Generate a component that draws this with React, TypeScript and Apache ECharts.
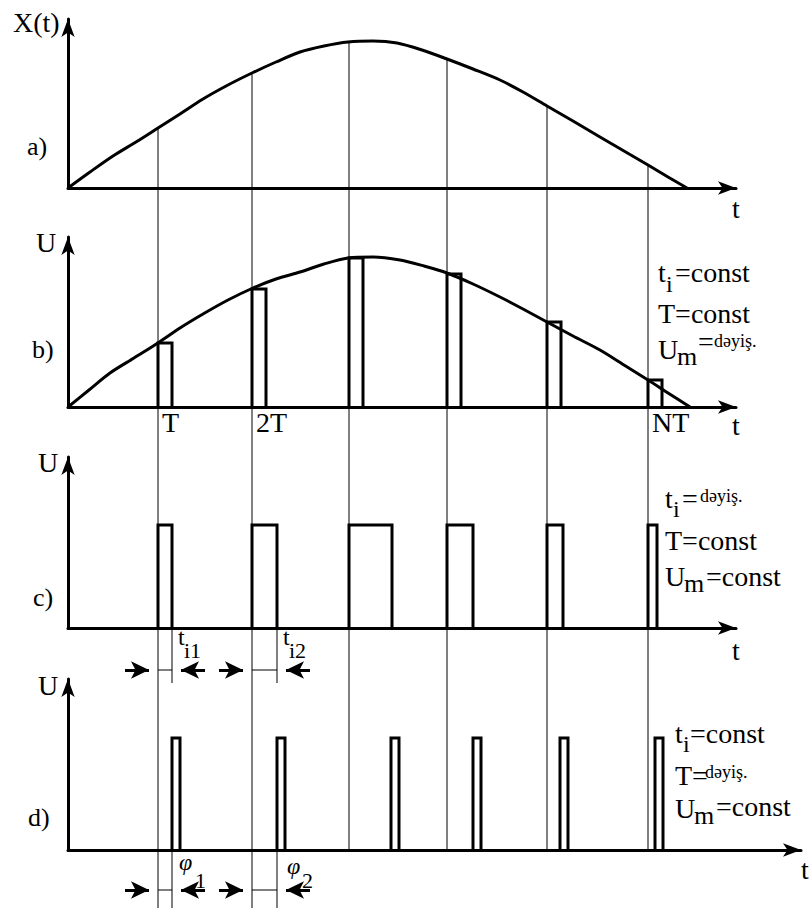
import { useEffect, useRef } from 'react';
import * as echarts from 'echarts';

// Sampling instants T, 2T, ..., NT (time units from each panel origin)
const sampleTimes = [90, 184, 281, 379, 479, 580];

// a) message signal X(t)
const signalT = [0, 22, 45, 68, 90, 112, 135, 160, 184, 208, 232, 256, 280, 305, 329, 354, 379, 405, 432, 455, 479, 505, 532, 556, 580, 600, 619];
const signalX = [0, 16, 32, 46, 60, 74, 89, 103, 115, 126, 136, 142, 146, 147, 145, 138, 129, 119, 108, 96, 82, 67, 51, 37, 23, 11, 0];
// X(t) at each sampling instant
const sampleX = [60, 115, 146, 129, 82, 23];

// b) envelope and amplitude-modulated pulses (t_i = const, T = const)
const envT = [0, 21, 42, 66, 90, 112, 135, 160, 185, 208, 232, 256, 280, 305, 332, 356, 379, 405, 432, 455, 479, 505, 532, 556, 580, 600, 622];
const envU = [0, 17, 34, 49, 64, 79, 93, 107, 119, 128, 135, 143, 149, 150, 147, 141, 134, 123, 110, 98, 85, 71, 57, 42, 27, 14, 0];
const pamU = [64, 118, 149, 133, 85, 27];
const pamWidth = 14;

// c) width-modulated pulses (U_m = const)
const pwmWidths = [14, 25, 43, 26, 16, 9];
const pwmU = 103;

// d) position-modulated pulses (t_i = const, U_m = const)
const ppmStarts = [104, 209, 323, 405, 492, 587];
const ppmWidth = 8;
const ppmU = 112;

// time-axis labels of panel b
const tickLabels = ['T', '2T', 'NT'];
const tickIndex = [0, 1, 5];

const FONT = "Liberation Serif";
const BLACK = '#000';

// panel layout (pixels)
const LEFT = 68;
const PANELS = [
  { top: 19, height: 169, width: 668 },
  { top: 237, height: 170, width: 668 },
  { top: 457, height: 171, width: 668 },
  { top: 679, height: 171, width: 733 },
];
const PAGE_H = 909;
const baseOf = (i: number) => PANELS[i].top + PANELS[i].height;
const GUIDE_LONG = 908;
const DIM_C_Y = 670;
const DIM_D_Y = 890;
const DIM_C_END = 683;
const ARROW_LEN = 18;
const ARROW_TAIL = 33;

function pulse(t0: number, w: number, h: number) {
  return [[t0, 0], [t0, h], [t0 + w, h], [t0 + w, 0]];
}

function lineSeries(gi: number, data: number[][], width = 3, smooth: number | boolean = false) {
  return {
    type: 'line',
    xAxisIndex: gi,
    yAxisIndex: gi,
    data,
    smooth,
    symbol: 'none',
    clip: false,
    silent: true,
    lineStyle: { color: BLACK, width, cap: 'butt', join: 'miter' },
  };
}

function txt(x: number, baseline: number, text: string, size: number, italic = false) {
  return {
    type: 'text',
    x,
    y: baseline - 0.34 * size,
    silent: true,
    style: {
      text,
      fill: BLACK,
      fontFamily: FONT,
      fontSize: size,
      fontStyle: italic ? 'italic' : 'normal',
      fontWeight: 'normal',
      align: 'left',
      verticalAlign: 'middle',
    },
  };
}

export default function App() {
  const ref = useRef<HTMLDivElement>(null);

  useEffect(() => {
    if (!ref.current) return;
    const chart = echarts.init(ref.current, undefined, { renderer: 'svg' });

    const grids = PANELS.map((p) => ({ left: LEFT, top: p.top, width: p.width, height: p.height }));
    grids.push({ left: LEFT, top: 0, width: PANELS[0].width, height: PAGE_H });

    const axisLine = {
      show: true,
      symbol: ['none', 'arrow'],
      symbolSize: [10, 18],
      lineStyle: { color: BLACK, width: 3 },
    };
    const xAxis: any[] = PANELS.map((p, i) => ({
      type: 'value', gridIndex: i, min: 0, max: p.width,
      axisLine, axisTick: { show: false }, axisLabel: { show: false }, splitLine: { show: false },
    }));
    const yAxis: any[] = PANELS.map((p, i) => ({
      type: 'value', gridIndex: i, min: 0, max: p.height,
      axisLine, axisTick: { show: false }, axisLabel: { show: false }, splitLine: { show: false },
    }));
    // overlay in page coordinates for lines crossing several panels
    xAxis.push({ type: 'value', gridIndex: 4, min: 0, max: PANELS[0].width, show: false });
    yAxis.push({ type: 'value', gridIndex: 4, min: 0, max: PAGE_H, inverse: true, show: false });

    const series: any[] = [];

    // a) X(t)
    series.push(lineSeries(0, signalT.map((t, i) => [t, signalX[i]]), 3, 0.3));

    // b) envelope + PAM pulses
    series.push(lineSeries(1, envT.map((t, i) => [t, envU[i]]), 3, 0.3));
    sampleTimes.forEach((t, i) => series.push(lineSeries(1, pulse(t, pamWidth, pamU[i]))));

    // c) PWM
    sampleTimes.forEach((t, i) => series.push(lineSeries(2, pulse(t, pwmWidths[i], pwmU))));

    // d) PPM
    ppmStarts.forEach((t) => series.push(lineSeries(3, pulse(t, ppmWidth, ppmU))));

    // vertical guides from X(t) down through all panels
    const baseA = baseOf(0);
    sampleTimes.forEach((t, i) => {
      const bottom = i < 2 ? GUIDE_LONG : baseOf(3);
      series.push(lineSeries(4, [[t, baseA - sampleX[i]], [t, bottom]], 1));
    });

    // dimension lines for t_i1, t_i2 and phi1, phi2
    const dims: { from: number; to: number; y: number }[] = [];
    [0, 1].forEach((i) => {
      const tEnd = sampleTimes[i] + pwmWidths[i];
      series.push(lineSeries(4, [[tEnd, baseOf(2)], [tEnd, DIM_C_END]], 1));
      series.push(lineSeries(4, [[ppmStarts[i], baseOf(3)], [ppmStarts[i], GUIDE_LONG]], 1));
      dims.push({ from: sampleTimes[i], to: tEnd, y: DIM_C_Y });
      dims.push({ from: sampleTimes[i], to: ppmStarts[i], y: DIM_D_Y });
    });
    dims.forEach((d) => series.push(lineSeries(4, [[d.from, d.y], [d.to, d.y]], 1)));
    const arrows: any[] = [];
    dims.forEach((d) => {
      arrows.push([{ coord: [d.from - ARROW_TAIL, d.y] }, { coord: [d.from - ARROW_LEN / 2, d.y] }]);
      arrows.push([{ coord: [d.to + ARROW_TAIL, d.y] }, { coord: [d.to + ARROW_LEN / 2, d.y] }]);
    });
    series.push({
      type: 'line', xAxisIndex: 4, yAxisIndex: 4, data: [[0, 0]], symbol: 'none', silent: true,
      lineStyle: { width: 0 },
      markLine: {
        silent: true, animation: false,
        symbol: ['none', 'arrow'], symbolSize: [13, ARROW_LEN],
        label: { show: false },
        lineStyle: { color: BLACK, width: 3, type: 'solid' },
        emphasis: { disabled: true },
        data: arrows,
      },
    });

    const graphic: any[] = [
      // a
      txt(13, 32, 'X(t)', 28),
      txt(27, 155, 'a)', 26),
      txt(732, 218, 't', 28),
      // b
      txt(36, 252, 'U', 28),
      txt(32, 358, 'b)', 26),
      txt(732, 435, 't', 28),
      txt(658, 282, 't', 28), txt(666, 292, 'i', 24), txt(675, 282, '=const', 28),
      txt(658, 323, 'T=const', 28),
      txt(658, 359, 'U', 28), txt(677, 365, 'm', 26), txt(698, 351, '=', 28), txt(714, 347, 'dəyiş.', 18),
      // c
      txt(38, 472, 'U', 28),
      txt(33, 606, 'c)', 26),
      txt(732, 660, 't', 28),
      txt(178, 645, 't', 24), txt(184, 658, 'i1', 22),
      txt(283, 645, 't', 24), txt(289, 658, 'i2', 22),
      txt(665, 508, 't', 28), txt(673, 517, 'i', 24), txt(682, 508, '=', 28), txt(700, 502, 'dəyiş.', 18),
      txt(665, 550, 'T=const', 28),
      txt(665, 586, 'U', 28), txt(684, 592, 'm', 26), txt(706, 586, '=const', 28),
      // d
      txt(38, 695, 'U', 28),
      txt(28, 826, 'd)', 26),
      txt(801, 879, 't', 28),
      txt(179, 870, 'φ', 24, true), txt(195, 888, '1', 22),
      txt(287, 874, 'φ', 24, true), txt(302, 888, '2', 22),
      txt(675, 743, 't', 28), txt(683, 752, 'i', 24), txt(690, 743, '=const', 28),
      txt(675, 785, 'T=', 28), txt(705, 778, 'dəyiş.', 18),
      txt(675, 818, 'U', 28), txt(694, 824, 'm', 26), txt(716, 816, '=const', 28),
    ];

    chart.setOption({
      animation: false,
      backgroundColor: '#fff',
      grid: grids,
      xAxis,
      yAxis,
      series,
      graphic: { elements: graphic },
    });

    // time labels T, 2T, NT placed through panel b's scale
    const tickTexts = tickIndex.map((k, j) => {
      const [px, py] = chart.convertToPixel({ gridIndex: 1 }, [sampleTimes[k], 0]) as number[];
      return txt(px + 4, py + 25, tickLabels[j], 28);
    });
    chart.setOption({ graphic: { elements: graphic.concat(tickTexts) } });

    return () => chart.dispose();
  }, []);

  return (
    <div
      ref={ref}
      style={{ position: 'fixed', left: 0, top: 0, width: 810, height: 909, background: '#fff' }}
    />
  );
}
